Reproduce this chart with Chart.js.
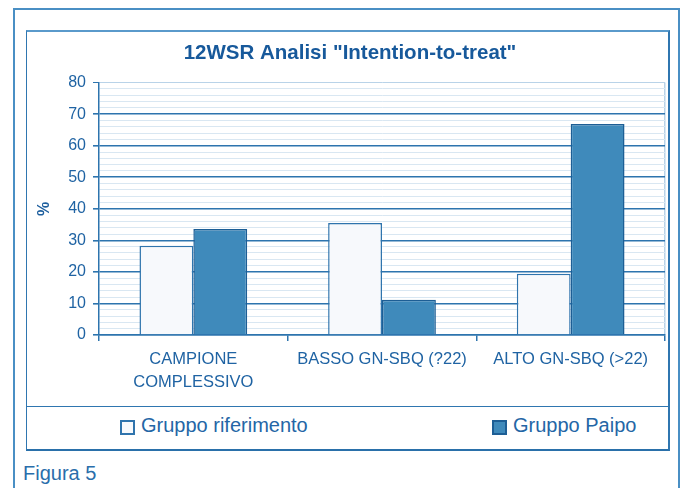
<!DOCTYPE html>
<html>
<head>
<meta charset="utf-8">
<script src="https://cdn.jsdelivr.net/npm/chart.js@4/dist/chart.umd.min.js"></script>
<style>
  html, body { margin: 0; padding: 0; background: #ffffff; }
  body { width: 683px; height: 488px; position: relative; overflow: hidden; font-family: "Liberation Sans", Arial, sans-serif; }
  #outer { position: absolute; left: 13px; top: 8px; width: 663px; height: 500px; border: 2px solid #4a8fc4; border-bottom: none; }
  #inner { position: absolute; left: 26px; top: 30px; width: 641px; height: 417px; border: 1px solid #2f76b0; border-top: 2px solid #5a9acb; border-right: 2px solid #2f76b0; border-bottom: 2px solid #2a70aa; }
  #sep { position: absolute; left: 27px; top: 406px; width: 641px; height: 0; border-top: 1px solid #2f76b0; }
  #chart { position: absolute; left: 0; top: 0; }
  .leg { position: absolute; top: 414px; display: flex; align-items: center; font-size: 20px; color: #2466a6; white-space: nowrap; }
  .leg .box { width: 11px; height: 11px; margin-right: 6px; margin-top: 3px; }
  #fig { position: absolute; left: 23px; top: 461px; font-size: 20px; color: #2a6eab; line-height: 24px; }
</style>
</head>
<body>
<div id="outer"></div>
<div id="inner"></div>
<div id="sep"></div>
<canvas id="chart" width="683" height="406"></canvas>
<div id="leg1" class="leg" style="left:120px"></div>
<div id="leg2" class="leg" style="left:492px"></div>
<div id="fig">Figura 5</div>
<script>
// ---- data ----
const categories = [['CAMPIONE', 'COMPLESSIVO'], 'BASSO GN-SBQ (?22)', 'ALTO GN-SBQ (>22)'];
const seriesNames = ['Gruppo riferimento', 'Gruppo Paipo'];
const riferimento = [28.3, 35.5, 19.4];
const paipo = [33.6, 11.2, 66.9];
const yTickLabels = [0, 10, 20, 30, 40, 50, 60, 70, 80];
const chartTitle = '12WSR Analisi "Intention-to-treat"';
const yTitle = '%';

const TXT = '#1f63a3';
const MAJOR = '#2d74ae';
const MINOR = '#d9e7f2';
const EDGE = '#b9d3e8';

const chart = new Chart(document.getElementById('chart'), {
  type: 'bar',
  data: {
    labels: categories,
    datasets: [
      { label: seriesNames[0], data: riferimento, backgroundColor: '#f7f9fc', borderColor: '#2f74ad', borderWidth: 1.5, borderSkipped: 'bottom' },
      { label: seriesNames[1], data: paipo, backgroundColor: '#3f8abb', borderColor: '#1d5e95', borderWidth: 1.5, borderSkipped: 'bottom' }
    ]
  },
  options: {
    responsive: false,
    animation: false,
    devicePixelRatio: 1,
    layout: { padding: { left: 35, right: 18, top: 41, bottom: 0 } },
    datasets: { bar: { categoryPercentage: 0.571, barPercentage: 1.0 } },
    plugins: {
      legend: { display: false },
      tooltip: { enabled: false },
      title: {
        display: true,
        text: chartTitle,
        color: '#17599b',
        font: { family: '"Liberation Sans", Arial, sans-serif', size: 20.5, weight: 'bold', lineHeight: 1.2 },
        padding: { top: 0, bottom: 17 }
      }
    },
    scales: {
      x: {
        offset: true,
        grid: {
          offset: true,
          drawOnChartArea: true,
          drawTicks: true,
          tickLength: 6,
          color: c => (c.type === 'scale' || c.index === undefined) ? EDGE : 'rgba(0,0,0,0)',
          tickColor: MAJOR,
          lineWidth: 1.5
        },
        border: { display: true, color: MAJOR, width: 1.5 },
        ticks: {
          color: TXT,
          padding: 6,
          maxRotation: 0,
          autoSkip: false,
          font: { family: '"Liberation Sans", Arial, sans-serif', size: 16.5, lineHeight: 1.45 }
        },
        afterFit: s => { s.height = 71; }
      },
      y: {
        min: 0,
        max: 80,
        grid: {
          drawTicks: true,
          tickLength: 6,
          color: c => {
            const v = c.tick ? c.tick.value : 0;
            if (v === 80) return EDGE;
            return (v % 10 === 0) ? MAJOR : MINOR;
          },
          lineWidth: c => {
            const v = c.tick ? c.tick.value : 0;
            return (v % 10 === 0 && v !== 80) ? 1.6 : 1;
          },
          tickColor: c => {
            const v = c.tick ? c.tick.value : 0;
            return (v % 10 === 0) ? MAJOR : 'rgba(0,0,0,0)';
          }
        },
        border: { display: true, color: MAJOR, width: 1.5 },
        ticks: {
          stepSize: 2,
          color: TXT,
          padding: 7,
          autoSkip: false,
          font: { family: '"Liberation Sans", Arial, sans-serif', size: 16 },
          callback: v => (yTickLabels.includes(v) ? String(v) : '')
        },
        title: {
          display: true,
          text: yTitle,
          color: '#1e5f9e',
          font: { family: '"Liberation Sans", Arial, sans-serif', size: 16, weight: 'bold', lineHeight: 1.2 },
          padding: { top: 0, bottom: 0 }
        },
        afterFit: s => { s.width = 64; }
      }
    }
  }
});

// HTML legend built from the chart's datasets
['leg1', 'leg2'].forEach((id, i) => {
  const ds = chart.data.datasets[i];
  const el = document.getElementById(id);
  const box = document.createElement('span');
  box.className = 'box';
  box.style.background = ds.backgroundColor;
  box.style.border = '2px solid ' + ds.borderColor;
  const t = document.createElement('span');
  t.textContent = ds.label;
  el.appendChild(box);
  el.appendChild(t);
});
</script>
</body>
</html>
